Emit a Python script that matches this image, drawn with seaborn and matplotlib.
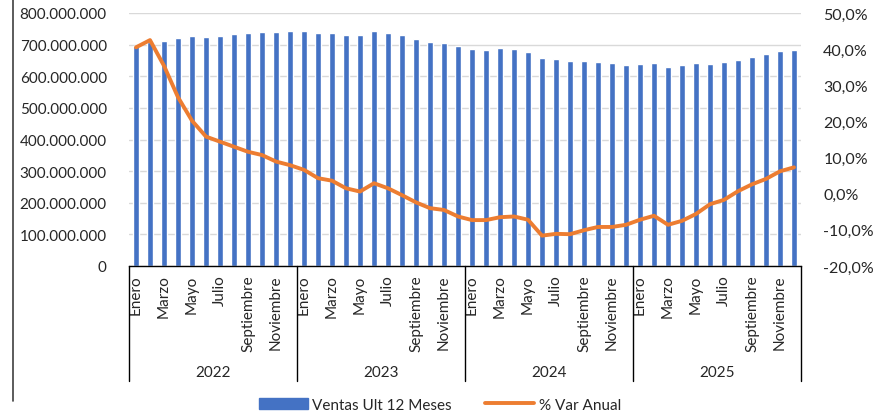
import numpy as np
import matplotlib.pyplot as plt
import matplotlib.transforms as mtransforms
from matplotlib.lines import Line2D
from matplotlib.patches import Patch
from matplotlib.ticker import FuncFormatter
import seaborn as sns

# Datos (ene-2022 a dic-2025)
years = ['2022', '2023', '2024', '2025']
months = ['Enero', 'Febrero', 'Marzo', 'Abril', 'Mayo', 'Junio', 'Julio',
          'Agosto', 'Septiembre', 'Octubre', 'Noviembre', 'Diciembre']
ventas_12m = [695, 708, 710, 721, 727, 723, 727, 733, 737, 740, 739, 743,
              743, 737, 737, 730, 729, 744, 737, 729, 718, 709, 705, 696,
              687, 683, 688, 685, 677, 657, 655, 648, 647, 645, 641, 636,
              638, 641, 629, 635, 641, 639, 644, 651, 662, 671, 680, 683]
var_anual = [40.5, 42.5, 35.4, 26.7, 20.2, 15.8, 14.4, 13.0, 11.6, 10.7, 8.9, 7.9,
             6.6, 4.3, 3.6, 1.5, 0.6, 2.9, 1.5, -0.4, -2.4, -4.0, -4.5, -6.3,
             -7.3, -7.3, -6.5, -6.3, -7.2, -11.6, -11.1, -11.2, -10.1, -9.2, -9.2, -8.6,
             -7.2, -6.1, -8.6, -7.5, -5.6, -2.9, -1.7, 0.7, 2.6, 4.1, 6.2, 7.3]

blue = '#4472C4'
orange = '#ED7D31'

sns.set_style('white')
plt.rcParams['font.family'] = ['Lato', 'DejaVu Sans']

n = len(ventas_12m)
idx = np.arange(n)
ventas = np.array(ventas_12m) * 1e6
var = np.array(var_anual) / 100

fig = plt.figure(figsize=(8.8, 4.14), dpi=100)
ax = fig.add_axes([129 / 880, 1 - 267 / 414, 672 / 880, 253 / 414])

sns.barplot(x=idx, y=ventas, ax=ax, color=blue, width=0.38, saturation=1)
ax.set_xlim(-0.5, n - 0.5)
ax.set_ylim(0, 800e6)
ax.set_yticks(np.arange(0, 800e6 + 1, 100e6))
ax.yaxis.set_major_formatter(FuncFormatter(lambda v, p: f'{int(v):,}'.replace(',', '.')))
ax.grid(axis='y', color='#D9D9D9', linewidth=1)
ax.set_axisbelow(True)
for s in ['top', 'left', 'right']:
    ax.spines[s].set_visible(False)
ax.spines['bottom'].set_color('black')
ax.spines['bottom'].set_linewidth(1)

labels = [months[i % 12] if i % 2 == 0 else '' for i in idx]
ax.set_xticks(idx)
ax.set_xticklabels(labels, rotation=90, fontsize=11, va='top')
ax.tick_params(axis='x', length=0, pad=6)
ax.tick_params(axis='y', length=0, labelsize=11, pad=16)
ax.set_xlabel('')
ax.set_ylabel('')

ax2 = ax.twinx()
sns.lineplot(x=idx, y=var, ax=ax2, color=orange, linewidth=2.8)
ax2.set_ylim(-0.2, 0.5)
ax2.set_yticks(np.arange(-0.2, 0.51, 0.1))
ax2.yaxis.set_major_formatter(FuncFormatter(lambda v, p: f'{v * 100:.1f}%'.replace('.', ',')))
ax2.tick_params(axis='y', length=0, labelsize=11.5, pad=16)
for s in ['top', 'left', 'right', 'bottom']:
    ax2.spines[s].set_visible(False)
ax2.set_xlim(-0.5, n - 0.5)

# separadores de anos y etiquetas de ano
trans = mtransforms.blended_transform_factory(ax.transData, ax.transAxes)
for k in range(len(years) + 1):
    xs = k * 12 - 0.5
    ax.plot([xs, xs], [0, -0.455], transform=trans, color='black', linewidth=1, clip_on=False)
for k, yr in enumerate(years):
    ax.text(k * 12 + 5.5, -0.42, yr, transform=trans, ha='center', va='center', fontsize=11)

handles = [Patch(facecolor=blue, edgecolor=blue),
           Line2D([0], [0], color=orange, linewidth=2.8)]
fig.legend(handles, ['Ventas Ult 12 Meses', '% Var Anual'], loc='lower center',
           bbox_to_anchor=(0.5, -0.03), ncol=2, frameon=False, fontsize=11,
           handlelength=3.2, handletextpad=0.3, columnspacing=2.2)

fig.add_artist(Line2D([13 / 880, 13 / 880], [0.03, 1], color='#404040', linewidth=1.2))

fig.savefig('out.png', dpi=100)
